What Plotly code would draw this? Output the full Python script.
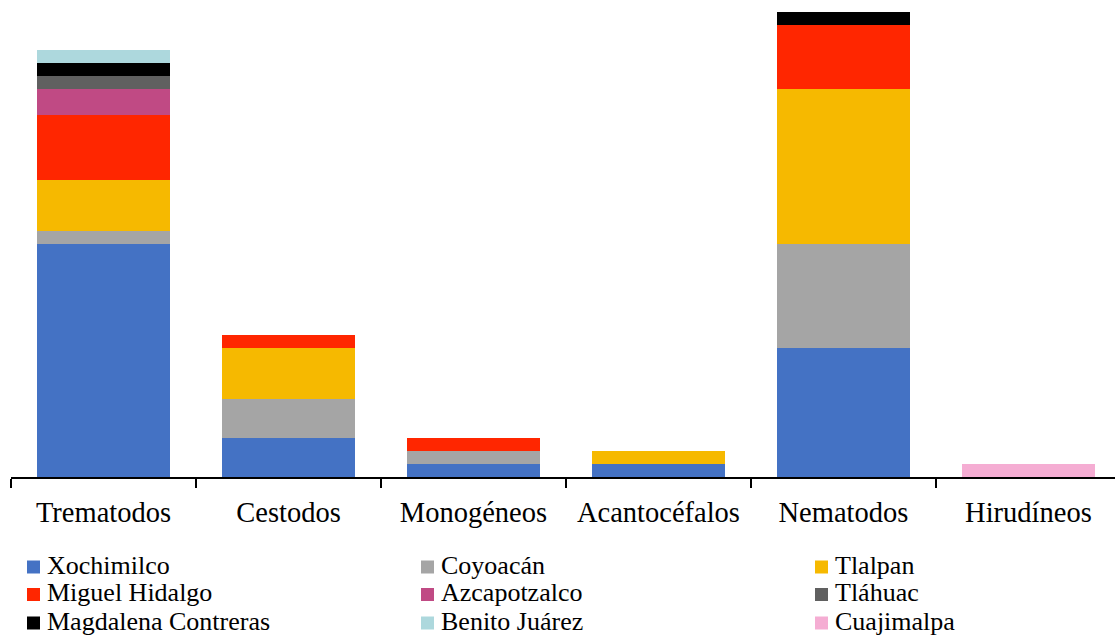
import plotly.graph_objects as go

# Parasite groups (x categories)
grupos = ["Trematodos", "Cestodos", "Monogéneos", "Acantocéfalos", "Nematodos", "Hirudíneos"]

# Records per borough for each parasite group
xochimilco = [18, 3, 1, 1, 10, 0]
coyoacan = [1, 3, 1, 0, 8, 0]
tlalpan = [4, 4, 0, 1, 12, 0]
miguel_hidalgo = [5, 1, 1, 0, 5, 0]
azcapotzalco = [2, 0, 0, 0, 0, 0]
tlahuac = [1, 0, 0, 0, 0, 0]
magdalena_contreras = [1, 0, 0, 0, 1, 0]
benito_juarez = [1, 0, 0, 0, 0, 0]
cuajimalpa = [0, 0, 0, 0, 0, 1]

series = [
    ("Xochimilco", xochimilco, "#4472C4"),
    ("Coyoacán", coyoacan, "#A5A5A5"),
    ("Tlalpan", tlalpan, "#F6B900"),
    ("Miguel Hidalgo", miguel_hidalgo, "#FF2600"),
    ("Azcapotzalco", azcapotzalco, "#C04A84"),
    ("Tláhuac", tlahuac, "#606060"),
    ("Magdalena Contreras", magdalena_contreras, "#000000"),
    ("Benito Juárez", benito_juarez, "#ADD8DD"),
    ("Cuajimalpa", cuajimalpa, "#F5ADD3"),
]

FONT = "Liberation Serif"
W, H = 1115, 637
ML, MR, MT, MB = 11, 0, 0, 160
PW, PH = W - ML - MR, H - MT - MB

fig = go.Figure()
for name, vals, color in series:
    fig.add_trace(go.Bar(
        x=grupos,
        y=[v if v else None for v in vals],
        name=name,
        marker=dict(color=color, line=dict(width=0)),
        showlegend=False,
    ))

# Legend key below the axis: three columns, three rows, in trace order
col_px = [27, 421, 815]
row_px = [567, 594.5, 623]
SW = 13
for i, (name, vals, color) in enumerate(series):
    cx = col_px[i % 3]
    cy = row_px[i // 3]
    fig.add_shape(
        type="rect", xref="paper", yref="paper",
        x0=(cx - ML) / PW, x1=(cx + SW - ML) / PW,
        y0=(MT + PH - (cy - SW / 2)) / PH, y1=(MT + PH - (cy + SW / 2)) / PH,
        fillcolor=color, line=dict(width=0),
    )
    fig.add_annotation(
        xref="paper", yref="paper",
        x=(cx + SW + 5 - ML) / PW, y=(MT + PH - (cy - 2)) / PH,
        xanchor="left", yanchor="middle",
        text=name, showarrow=False,
        font=dict(size=26, family=FONT, color="black"),
    )

fig.update_layout(
    width=W,
    height=H,
    barmode="stack",
    bargap=0.28,
    plot_bgcolor="white",
    paper_bgcolor="white",
    margin=dict(l=ML, r=MR, t=MT, b=MB, autoexpand=False),
    font=dict(family=FONT, color="black"),
    showlegend=False,
    xaxis=dict(
        range=[-0.5, 5.468],
        showline=True,
        linecolor="black",
        linewidth=2,
        ticks="outside",
        tickson="boundaries",
        ticklen=9,
        tickwidth=2,
        tickcolor="black",
        ticklabelstandoff=9,
        tickfont=dict(size=28.5, family=FONT, color="black"),
        showgrid=False,
        zeroline=False,
    ),
    yaxis=dict(
        range=[0, 36.9],
        visible=False,
        showgrid=False,
        zeroline=False,
    ),
)

fig.write_html("out.html")
